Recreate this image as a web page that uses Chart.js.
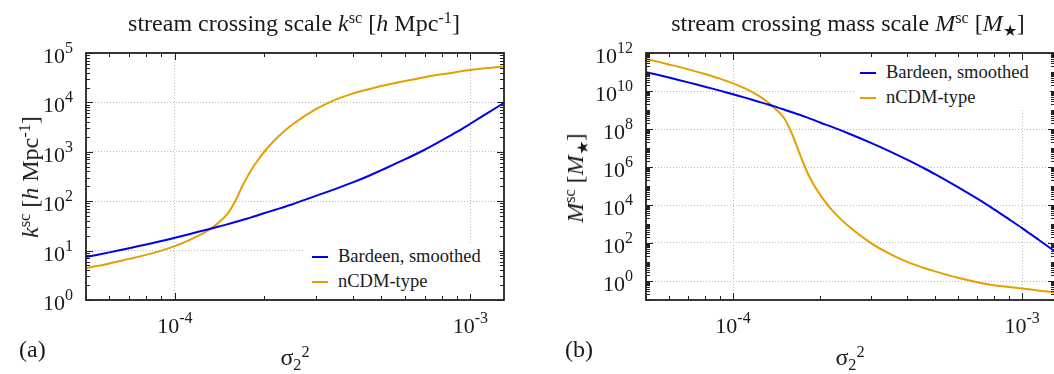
<!DOCTYPE html>
<html>
<head>
<meta charset="utf-8">
<title>stream crossing scales</title>
<script src="https://cdn.jsdelivr.net/npm/chart.js@4.4.1/dist/chart.umd.min.js"></script>
<style>
  html, body { margin: 0; padding: 0; overflow: hidden; background: #fff; }
  body { position: relative; width: 1054px; height: 374px; font-family: "Liberation Serif", "Times New Roman", serif; color: #1a1a1a; }
  canvas { position: absolute; top: 0; }
  .txt { position: absolute; white-space: nowrap; font-size: 24px; line-height: 1; }
  .title { top: 11px; transform: translateX(-50%); }
  .ytitle { transform: translate(-50%, -50%) rotate(-90deg); }
  .xtitle { top: 345px; transform: translateX(-50%); }
  .tag { top: 337px; }
  sup { font-size: 0.68em; vertical-align: 0.48em; line-height: 0; }
  sub { font-size: 0.68em; vertical-align: -0.3em; line-height: 0; }
  .legend { position: absolute; background: #fff; font-size: 18.5px; line-height: 1; }
  .legend div { height: 25px; display: flex; align-items: center; white-space: nowrap; }
  .legend .sw { display: inline-block; width: 16px; height: 2px; margin-right: 10px; }
</style>
</head>
<body>
<canvas id="left" width="527" height="374" style="left:0"></canvas>
<canvas id="right" width="528" height="374" style="left:527px"></canvas>

<div class="txt title" style="left:294px">stream crossing scale <i>k</i><sup>sc</sup> [<i>h</i> Mpc<sup>-1</sup>]</div>
<div class="txt title" style="left:848px">stream crossing mass scale <i>M</i><sup>sc</sup> [<i>M</i><sub>★</sub>]</div>
<div class="txt ytitle" style="left:30px;top:177px"><i>k</i><sup>sc</sup> [<i>h</i> Mpc<sup>-1</sup>]</div>
<div class="txt ytitle" style="left:575px;top:178px"><i>M</i><sup>sc</sup> [<i>M</i><sub>★</sub>]</div>
<div class="txt xtitle" style="left:295px">σ<sub>2</sub><sup>2</sup></div>
<div class="txt xtitle" style="left:850px">σ<sub>2</sub><sup>2</sup></div>
<div class="txt tag" style="left:19px">(a)</div>
<div class="txt tag" style="left:565px">(b)</div>
<div class="legend" id="legLeft" style="left:305px;top:244px;width:194px;padding-left:7px;box-sizing:border-box"></div>
<div class="legend" id="legRight" style="left:855px;top:60px;width:195px;padding-left:5px;box-sizing:border-box"></div>

<script>
// sigma_2^2 sample points (x axis)
const sigma = [5e-5, 6e-5, 7e-5, 8e-5, 9e-5, 1e-4, 1.1e-4, 1.2e-4, 1.3e-4, 1.4e-4,
  1.5e-4, 1.6e-4, 1.7e-4, 1.8e-4, 1.9e-4, 2e-4, 2.2e-4, 2.5e-4, 3e-4, 3.5e-4,
  4e-4, 4.5e-4, 5e-4, 6e-4, 7e-4, 8e-4, 9e-4, 1e-3, 1.15e-3, 1.3e-3];

// stream crossing scale k_sc [h/Mpc]
const kBardeen = [7.4, 9.2, 11.2, 13.3, 15.6, 18.2, 21, 24, 27, 30.3,
  34, 37.8, 42, 46.5, 51.5, 57, 68, 87, 128, 178,
  240, 320, 425, 700, 1100, 1700, 2520, 3700, 6200, 9800];
const kNcdm = [4.4, 5.5, 6.8, 8.2, 10, 12.3, 15.5, 20, 26, 36,
  54, 100, 215, 400, 650, 980, 1840, 3570, 7280, 11400,
  15100, 18300, 21400, 27100, 32400, 37100, 41300, 45200, 49800, 53600];

// stream crossing mass scale M_sc [M_sun]
const mBardeen = [9.8e10, 5.1e10, 2.85e10, 1.69e10, 1.05e10, 6.7e9, 4.46e9, 3.0e9, 2.1e9, 1.5e9,
  1.07e9, 7.6e8, 5.6e8, 4.1e8, 3.0e8, 2.2e8, 1.29e8, 6.0e7, 1.87e7, 6.5e6,
  2.44e6, 9.8e5, 4.2e5, 8.7e4, 2.14e4, 5.9e3, 1.8e3, 610, 135, 36];
const mNcdm = [4.9e11, 2.5e11, 1.38e11, 7.8e10, 4.5e10, 2.5e10, 1.36e10, 6.8e9, 3.05e9, 1.17e9,
  3.9e8, 5.6e7, 5.0e6, 6.0e5, 1.19e5, 3.5e4, 5.4e3, 800, 98, 26,
  10.2, 5.3, 3.2, 1.48, 0.87, 0.6, 0.48, 0.4, 0.31, 0.25];

const seriesNames = ["Bardeen, smoothed", "nCDM-type"];
const seriesColors = ["#0000ee", "#e69f00"];

// major tick values (labelled as 10^n)
const xTicks = [1e-4, 1e-3];
const kTicks = [1, 10, 100, 1e3, 1e4, 1e5];
const mTicks = [1, 1e2, 1e4, 1e6, 1e8, 1e10, 1e12];

function logSteps(min, max) {
  const out = [];
  for (let e = Math.floor(Math.log10(min)); e <= Math.ceil(Math.log10(max)); e++) {
    for (let k = 1; k < 10; k++) {
      const v = k * Math.pow(10, e);
      if (v >= min * 0.999 && v <= max * 1.001) out.push(v);
    }
  }
  return out;
}

function powLabel(ctx, v, x, y, align) {
  const base = "10";
  const exp = String(Math.round(Math.log10(v)));
  ctx.font = '22px "Liberation Serif"';
  const wb = ctx.measureText(base).width;
  ctx.font = '16px "Liberation Serif"';
  const we = ctx.measureText(exp).width;
  const x0 = align === "right" ? x - wb - we : x - (wb + we) / 2;
  ctx.textAlign = "left";
  ctx.textBaseline = "alphabetic";
  ctx.font = '22px "Liberation Serif"';
  ctx.fillText(base, x0, y);
  ctx.font = '16px "Liberation Serif"';
  ctx.fillText(exp, x0 + wb, y - 10);
}

// inward ticks on all four sides, box frame and 10^n labels
const framePlugin = {
  id: "frame",
  afterDraw(chart) {
    const { ctx, chartArea: a } = chart;
    const sx = chart.scales.x, sy = chart.scales.y;
    const majX = sx.ticks.map(t => t.value);
    const majY = sy.ticks.map(t => t.value);
    const isMaj = (list, v) => list.some(m => Math.abs(m - v) / m < 1e-6);
    ctx.save();
    ctx.strokeStyle = "#222";
    ctx.lineWidth = 1;
    ctx.beginPath();
    logSteps(sx.min, sx.max).forEach(v => {
      const p = Math.round(sx.getPixelForValue(v)) + 0.5;
      const len = isMaj(majX, v) ? 7 : 4;
      ctx.moveTo(p, a.bottom); ctx.lineTo(p, a.bottom - len);
      ctx.moveTo(p, a.top); ctx.lineTo(p, a.top + len);
    });
    logSteps(sy.min, sy.max).forEach(v => {
      const p = Math.round(sy.getPixelForValue(v)) + 0.5;
      const len = isMaj(majY, v) ? 7 : 4;
      ctx.moveTo(a.left, p); ctx.lineTo(a.left + len, p);
      ctx.moveTo(a.right, p); ctx.lineTo(a.right - len, p);
    });
    ctx.stroke();
    ctx.lineWidth = 1.8;
    ctx.strokeRect(a.left, a.top, a.right - a.left, a.bottom - a.top);
    ctx.fillStyle = "#1a1a1a";
    sx.ticks.forEach(t => powLabel(ctx, t.value, sx.getPixelForValue(t.value), a.bottom + 33, "center"));
    sy.ticks.forEach(t => powLabel(ctx, t.value, a.left - 13, sy.getPixelForValue(t.value) + 10, "right"));
    ctx.restore();
  },
};

function makeChart(id, yMin, yMax, yMajors, series, pad) {
  return new Chart(document.getElementById(id), {
    type: "line",
    data: {
      datasets: series.map((s, i) => ({
        label: seriesNames[i],
        data: sigma.map((x, j) => ({ x: x, y: s[j] })),
        borderColor: seriesColors[i],
        borderWidth: 2,
        pointRadius: 0,
        tension: 0.35,
        fill: false,
      })),
    },
    options: {
      responsive: false,
      animation: false,
      layout: { padding: pad },
      plugins: {
        legend: { display: false },
        tooltip: { enabled: false },
      },
      scales: {
        x: {
          type: "logarithmic",
          min: 5e-5,
          max: 1.3e-3,
          afterBuildTicks: (s) => { s.ticks = xTicks.map(v => ({ value: v })); },
          afterFit: (s) => { s.height = 40; },
          ticks: { display: false },
          grid: { color: "#b8b8b8", lineWidth: 1, drawTicks: false },
          border: { display: false, dash: [1, 2] },
        },
        y: {
          type: "logarithmic",
          min: yMin,
          max: yMax,
          afterBuildTicks: (s) => { s.ticks = yMajors.map(v => ({ value: v })); },
          afterFit: (s) => { s.width = 60; },
          ticks: { display: false },
          grid: { color: "#b8b8b8", lineWidth: 1, drawTicks: false },
          border: { display: false, dash: [1, 2] },
        },
      },
    },
    plugins: [framePlugin],
  });
}

function htmlLegend(chart, id) {
  const box = document.getElementById(id);
  chart.data.datasets.forEach(ds => {
    const row = document.createElement("div");
    const sw = document.createElement("span");
    sw.className = "sw";
    sw.style.background = ds.borderColor;
    row.appendChild(sw);
    row.appendChild(document.createTextNode(ds.label));
    box.appendChild(row);
  });
}

const leftChart = makeChart("left", 1, 1e5, kTicks, [kBardeen, kNcdm],
  { left: 26, right: 23, top: 53, bottom: 34 });
const rightChart = makeChart("right", 0.1, 1e12, mTicks, [mBardeen, mNcdm],
  { left: 59, right: 0, top: 53, bottom: 34 });
htmlLegend(leftChart, "legLeft");
htmlLegend(rightChart, "legRight");
</script>
</body>
</html>
